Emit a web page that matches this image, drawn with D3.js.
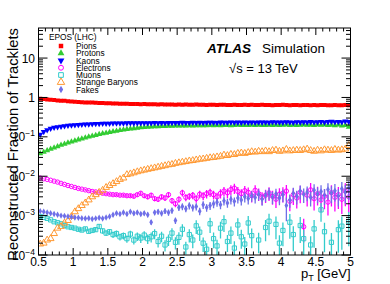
<!DOCTYPE html>
<html>
<head>
<meta charset="utf-8">
<script src="https://cdn.jsdelivr.net/npm/d3@7"></script>
<style>
  body { margin: 0; background: #fff; }
  svg { font-family: "Liberation Sans", Arial, sans-serif; }
</style>
</head>
<body>
<div id="chart"></div>
<script>
// bin centres in pT [GeV]
const ptBins = [
  0.525,0.575,0.625,0.675,0.725,0.775,0.825,0.875,0.925,0.975,
  1.025,1.075,1.125,1.175,1.225,1.275,1.325,1.375,1.425,1.475,
  1.525,1.575,1.625,1.675,1.725,1.775,1.825,1.875,1.925,1.975,
  2.025,2.075,2.125,2.175,2.225,2.275,2.325,2.375,2.425,2.475,
  2.525,2.575,2.625,2.675,2.725,2.775,2.825,2.875,2.925,2.975,
  3.025,3.075,3.125,3.175,3.225,3.275,3.325,3.375,3.425,3.475,
  3.525,3.575,3.625,3.675,3.725,3.775,3.825,3.875,3.925,3.975,
  4.025,4.075,4.125,4.175,4.225,4.275,4.325,4.375,4.425,4.475,
  4.525,4.575,4.625,4.675,4.725,4.775,4.825,4.875,4.925,4.975
];

const pions = [
  0.93,0.91,0.89,0.87,0.86,0.84,0.83,0.82,0.80,0.79,
  0.78,0.77,0.76,0.75,0.74,0.74,0.73,0.72,0.72,0.71,
  0.71,0.70,0.70,0.69,0.69,0.69,0.68,0.68,0.68,0.67,
  0.68,0.67,0.67,0.67,0.66,0.67,0.66,0.66,0.66,0.65,
  0.66,0.65,0.66,0.65,0.65,0.66,0.65,0.65,0.64,0.65,
  0.65,0.64,0.65,0.65,0.64,0.64,0.65,0.64,0.64,0.65,
  0.64,0.65,0.64,0.64,0.65,0.64,0.64,0.63,0.64,0.64,
  0.65,0.64,0.63,0.64,0.64,0.63,0.64,0.64,0.63,0.64,
  0.63,0.64,0.64,0.63,0.63,0.64,0.63,0.63,0.64,0.63
];

const protons = [
  0.038,0.041,0.045,0.049,0.053,0.057,0.062,0.066,0.071,0.075,
  0.080,0.085,0.090,0.095,0.100,0.105,0.110,0.116,0.121,0.126,
  0.131,0.136,0.141,0.146,0.151,0.156,0.160,0.164,0.168,0.172,
  0.175,0.178,0.180,0.182,0.184,0.186,0.187,0.188,0.189,0.190,
  0.191,0.190,0.192,0.193,0.191,0.194,0.193,0.195,0.194,0.196,
  0.195,0.197,0.194,0.196,0.198,0.195,0.197,0.199,0.196,0.198,
  0.197,0.199,0.196,0.200,0.198,0.197,0.201,0.198,0.200,0.197,
  0.199,0.202,0.198,0.200,0.197,0.201,0.203,0.199,0.200,0.196,
  0.202,0.199,0.204,0.198,0.200,0.195,0.203,0.190,0.198,0.178
];

const kaons = [
  0.115,0.135,0.150,0.162,0.172,0.178,0.184,0.189,0.193,0.197,
  0.200,0.203,0.206,0.208,0.210,0.212,0.214,0.216,0.217,0.218,
  0.219,0.220,0.221,0.222,0.222,0.223,0.224,0.223,0.225,0.224,
  0.225,0.226,0.225,0.227,0.226,0.228,0.226,0.227,0.229,0.228,
  0.228,0.230,0.227,0.229,0.231,0.228,0.230,0.229,0.232,0.230,
  0.231,0.229,0.233,0.230,0.232,0.234,0.231,0.233,0.230,0.235,
  0.232,0.234,0.231,0.236,0.233,0.235,0.232,0.237,0.234,0.236,
  0.233,0.238,0.235,0.232,0.237,0.236,0.239,0.234,0.240,0.236,
  0.238,0.242,0.235,0.240,0.245,0.237,0.243,0.239,0.248,0.241
];

const electrons = [
  9.0e-3,8.6e-3,8.3e-3,7.9e-3,7.5e-3,7.1e-3,6.6e-3,6.2e-3,5.8e-3,5.5e-3,
  5.2e-3,4.9e-3,4.7e-3,4.5e-3,4.3e-3,4.1e-3,4.0e-3,3.8e-3,3.7e-3,3.6e-3,
  3.5e-3,3.4e-3,3.4e-3,3.3e-3,3.3e-3,3.2e-3,3.2e-3,3.1e-3,3.4e-3,3.7e-3,
  3.2e-3,3.0e-3,3.3e-3,2.7e-3,2.6e-3,3.0e-3,2.8e-3,3.4e-3,2.4e-3,2.0e-3,
  2.6e-3,3.8e-3,2.9e-3,3.1e-3,3.3e-3,2.7e-3,3.5e-3,3.2e-3,3.6e-3,3.9e-3,
  3.4e-3,3.0e-3,3.7e-3,4.2e-3,3.8e-3,4.6e-3,5.0e-3,4.1e-3,3.6e-3,4.3e-3,
  3.9e-3,3.2e-3,4.4e-3,3.6e-3,2.9e-3,3.3e-3,3.8e-3,3.1e-3,2.6e-3,3.5e-3,
  3.7e-3,4.2e-3,2.3e-3,3.4e-3,2.8e-3,3.9e-3,5.2e-4,3.3e-3,4.5e-3,2.7e-3,
  3.6e-3,2.5e-3,3.1e-3,2.2e-3,3.8e-3,2.9e-3,3.4e-3,2.6e-3,4.2e-3,3.0e-3
];
const electronsErr = [
  .02,.02,.02,.02,.02,.03,.03,.03,.03,.03,
  .04,.04,.04,.05,.05,.05,.06,.06,.06,.07,
  .07,.08,.08,.09,.09,.10,.10,.11,.11,.12,
  .12,.13,.13,.14,.15,.15,.16,.16,.17,.18,
  .18,.19,.20,.20,.21,.22,.22,.23,.24,.24,
  .25,.26,.26,.27,.28,.28,.29,.30,.30,.31,
  .32,.33,.34,.35,.36,.37,.38,.39,.40,.41,
  .42,.43,.44,.45,.46,.47,.60,.48,.49,.50,
  .50,.52,.53,.54,.55,.56,.57,.58,.59,.60
];

const muons = [
  9.5e-4,9.0e-4,8.5e-4,7.8e-4,7.0e-4,6.6e-4,6.2e-4,5.6e-4,5.2e-4,5.0e-4,
  4.8e-4,4.5e-4,4.3e-4,4.6e-4,4.0e-4,4.2e-4,4.4e-4,5.3e-4,4.1e-4,3.6e-4,
  3.9e-4,3.3e-4,3.5e-4,2.9e-4,3.1e-4,2.6e-4,3.4e-4,2.4e-4,3.0e-4,2.7e-4,
  3.2e-4,2.6e-4,2.9e-4,3.5e-4,2.2e-4,3.0e-4,1.8e-4,2.5e-4,3.6e-4,2.1e-4,
  2.8e-4,4.5e-4,1.6e-4,3.3e-4,2.4e-4,5.5e-4,3.8e-4,2.0e-4,1.4e-4,6.2e-4,
  2.6e-4,1.7e-4,4.8e-4,7.0e-4,2.2e-4,3.6e-4,1.5e-4,5.8e-4,2.9e-4,1.9e-4,
  6.5e-4,3.1e-4,0,2.4e-4,0,5.0e-4,7.2e-4,0,6.0e-4,2.0e-4,
  4.2e-4,0,6.8e-4,3.3e-4,0,5.6e-4,2.6e-4,0,1.8e-4,4.6e-4,
  0,1.4e-3,3.9e-4,0,2.1e-4,0,4.4e-4,5.4e-4,0,7.0e-4
];
const muonsErr = [
  .04,.04,.05,.05,.06,.06,.07,.07,.08,.08,
  .09,.10,.10,.11,.12,.12,.13,.14,.15,.16,
  .17,.18,.19,.20,.20,.21,.22,.23,.24,.25,
  .26,.27,.28,.28,.30,.30,.32,.32,.33,.34,
  .35,.35,.36,.37,.38,.38,.40,.40,.41,.42,
  .43,.44,.45,.45,.46,.47,.48,.48,.50,.50,
  .50,.52,.53,.54,.55,.55,.56,.57,.58,.58,
  .60,.60,.62,.62,.63,.64,.65,.65,.66,.67,
  .68,.50,.70,.70,.72,.72,.74,.75,.76,.76
];

const strangeBaryons = [
  1.9e-4,2.0e-4,2.4e-4,2.6e-4,3.5e-4,4.8e-4,5.3e-4,6.5e-4,7.5e-4,9.5e-4,
  1.25e-3,1.5e-3,1.8e-3,2.1e-3,2.5e-3,3.0e-3,3.4e-3,3.9e-3,4.4e-3,5.2e-3,
  5.8e-3,6.5e-3,7.3e-3,8.3e-3,9.0e-3,1.1e-2,1.15e-2,1.22e-2,1.3e-2,1.37e-2,
  1.43e-2,1.5e-2,1.56e-2,1.63e-2,1.7e-2,1.78e-2,1.85e-2,1.95e-2,2.0e-2,2.12e-2,
  2.2e-2,2.28e-2,2.35e-2,2.45e-2,2.5e-2,2.6e-2,2.7e-2,2.75e-2,2.85e-2,2.95e-2,
  3.0e-2,3.1e-2,3.2e-2,3.45e-2,3.35e-2,3.6e-2,3.55e-2,3.8e-2,3.9e-2,3.8e-2,
  4.0e-2,4.2e-2,4.1e-2,4.3e-2,4.2e-2,4.4e-2,4.2e-2,4.5e-2,4.6e-2,4.3e-2,
  4.4e-2,4.8e-2,4.4e-2,4.5e-2,4.6e-2,4.5e-2,4.7e-2,4.9e-2,4.5e-2,4.3e-2,
  4.6e-2,4.4e-2,4.7e-2,4.6e-2,4.5e-2,4.8e-2,4.6e-2,4.7e-2,4.9e-2,6.0e-2
];

const fakes = [
  1.3e-3,1.25e-3,1.2e-3,1.15e-3,1.1e-3,1.05e-3,1.0e-3,9.8e-4,9.5e-4,9.2e-4,
  9.0e-4,8.8e-4,8.6e-4,8.4e-4,8.6e-4,8.2e-4,8.5e-4,8.8e-4,8.4e-4,9.0e-4,
  9.5e-4,1.05e-3,1.15e-3,1.1e-3,1.2e-3,1.1e-3,1.25e-3,1.15e-3,1.2e-3,1.1e-3,
  1.15e-3,1.05e-3,6.8e-4,1.2e-3,1.25e-3,1.15e-3,1.3e-3,1.2e-3,1.35e-3,7.5e-4,
  1.6e-3,1.7e-3,1.5e-3,1.8e-3,1.6e-3,1.7e-3,1.3e-3,1.9e-3,1.6e-3,1.8e-3,
  2.0e-3,2.2e-3,1.9e-3,2.4e-3,2.1e-3,2.6e-3,2.3e-3,2.8e-3,2.5e-3,3.0e-3,
  2.7e-3,3.2e-3,2.9e-3,3.5e-3,2.6e-3,3.3e-3,3.8e-3,3.0e-3,3.6e-3,2.8e-3,
  3.4e-3,1.8e-3,2.5e-3,3.7e-3,3.1e-3,4.2e-3,3.5e-3,3.9e-3,2.9e-3,4.4e-3,
  3.6e-3,4.1e-3,3.3e-3,4.6e-3,3.8e-3,4.3e-3,3.2e-3,4.8e-3,4.0e-3,5.0e-3
];
const fakesErr = [
  .03,.03,.03,.03,.04,.04,.04,.04,.05,.05,
  .05,.06,.06,.06,.07,.07,.07,.08,.08,.08,
  .09,.09,.10,.10,.10,.11,.11,.12,.12,.13,
  .13,.14,.14,.15,.15,.16,.16,.17,.17,.18,
  .18,.19,.19,.20,.20,.21,.21,.22,.22,.23,
  .23,.24,.24,.25,.25,.26,.26,.27,.28,.28,
  .29,.30,.30,.31,.32,.32,.33,.34,.34,.35,
  .36,.60,.37,.38,.38,.39,.40,.41,.41,.42,
  .43,.44,.44,.45,.46,.47,.47,.48,.49,.50
];

const yMajor = [1e-4, 1e-3, 1e-2, 1e-1, 1, 10];
const yMajorLabels = [["10", "\u22124"], ["10", "\u22123"], ["10", "\u22122"], ["10", "\u22121"], ["1", ""], ["10", ""]];
const xMajor = [0.5, 1, 1.5, 2, 2.5, 3, 3.5, 4, 4.5, 5];
const xMajorLabels = ["0.5", "1", "1.5", "2", "2.5", "3", "3.5", "4", "4.5", "5"];

const W = 390, H = 284;
const frame = { left: 38.5, right: 350.5, top: 28, bottom: 255 };

const x = d3.scaleLinear().domain([0.5, 5]).range([frame.left, frame.right]);
const y = d3.scaleLog().domain([1e-4, 58]).range([frame.bottom, frame.top]);

const series = [
  { name: "Pions", values: pions, color: "#ff0000", shape: "square", fill: true, size: 16 },
  { name: "Protons", values: protons, color: "#33cc33", shape: "triUp", fill: true, size: 16 },
  { name: "Kaons", values: kaons, color: "#0000ff", shape: "triDown", fill: true, size: 16 },
  { name: "Electrons", values: electrons, err: electronsErr, color: "#ff00ff", shape: "circle", fill: false, size: 15 },
  { name: "Muons", values: muons, err: muonsErr, color: "#33cccc", shape: "square", fill: false, size: 18 },
  { name: "Strange Baryons", values: strangeBaryons, color: "#ff9933", shape: "triUp", fill: false, size: 20 },
  { name: "Fakes", values: fakes, err: fakesErr, color: "#6f6fe8", shape: "diamond", fill: true, size: 12 },
];

const svg = d3.select("#chart").append("svg").attr("width", W).attr("height", H);

const symbolPath = (s, size) => {
  const types = {
    square: d3.symbolSquare, circle: d3.symbolCircle, triUp: d3.symbolTriangle,
    triDown: d3.symbolTriangle, diamond: d3.symbolDiamond,
  };
  return d3.symbol().type(types[s]).size(size)();
};

svg.append("clipPath").attr("id", "plotclip")
  .append("rect")
  .attr("x", frame.left).attr("y", frame.top)
  .attr("width", frame.right - frame.left).attr("height", frame.bottom - frame.top);

const plot = svg.append("g").attr("clip-path", "url(#plotclip)");

series.forEach((s) => {
  const pts = ptBins.map((pt, i) => ({ pt, v: s.values[i], e: s.err ? s.err[i] : 0 }))
    .filter((d) => d.v > 0);
  const g = plot.append("g");
  if (s.err) {
    g.selectAll("line")
      .data(pts)
      .join("line")
      .attr("x1", (d) => x(d.pt)).attr("x2", (d) => x(d.pt))
      .attr("y1", (d) => y(d.v * (1 + d.e)))
      .attr("y2", (d) => (d.e >= 1 ? frame.bottom + 2 : y(d.v * (1 - d.e))))
      .attr("stroke", s.color).attr("stroke-width", 1.3);
  }
  g.selectAll("path")
    .data(pts)
    .join("path")
    .attr("d", symbolPath(s.shape, s.size))
    .attr("transform", (d) => `translate(${x(d.pt)},${y(d.v)})${s.shape === "triDown" ? " rotate(180)" : ""}`)
    .attr("fill", s.fill ? s.color : "none")
    .attr("stroke", s.fill ? "none" : s.color)
    .attr("stroke-width", 1);
});

// frame and ticks (ROOT style: inside, on all four sides)
const axes = svg.append("g").attr("stroke", "#000").attr("stroke-width", 1);
axes.append("rect")
  .attr("x", frame.left).attr("y", frame.top)
  .attr("width", frame.right - frame.left).attr("height", frame.bottom - frame.top)
  .attr("fill", "none");

const xMinor = d3.range(5, 51).map((d) => d / 10).filter((d) => !xMajor.some((m) => Math.abs(m - d) < 1e-9));
const yMinor = [];
[1e-4, 1e-3, 1e-2, 1e-1, 1, 10].forEach((dec) => {
  for (let k = 2; k <= 9; k++) if (dec * k < 58) yMinor.push(dec * k);
});

const tick = (list, len, horiz) => {
  list.forEach((v) => {
    if (horiz) {
      const px = x(v);
      axes.append("line").attr("x1", px).attr("x2", px).attr("y1", frame.bottom).attr("y2", frame.bottom - len);
      axes.append("line").attr("x1", px).attr("x2", px).attr("y1", frame.top).attr("y2", frame.top + len);
    } else {
      const py = y(v);
      axes.append("line").attr("x1", frame.left).attr("x2", frame.left + len).attr("y1", py).attr("y2", py);
      axes.append("line").attr("x1", frame.right).attr("x2", frame.right - len).attr("y1", py).attr("y2", py);
    }
  });
};
tick(xMajor, 7, true);
tick(xMinor, 3.5, true);
tick(yMajor, 9, false);
tick(yMinor, 4.5, false);

// tick labels
const lab = svg.append("g").attr("font-size", 12).attr("fill", "#000");
lab.selectAll("text.xl")
  .data(xMajor)
  .join("text")
  .attr("class", "xl")
  .attr("x", (d) => x(d)).attr("y", 265.5)
  .attr("text-anchor", "middle")
  .text((d, i) => xMajorLabels[i]);

yMajor.forEach((v, i) => {
  const [base, sup] = yMajorLabels[i];
  const t = lab.append("text")
    .attr("x", 35).attr("y", y(v) + 4.5)
    .attr("text-anchor", "end");
  t.append("tspan").text(base);
  if (sup) t.append("tspan").attr("font-size", 8.5).attr("dy", -5).text(sup);
});

// axis titles
svg.append("text")
  .attr("transform", `translate(17.5,${frame.top}) rotate(-90)`)
  .attr("text-anchor", "end")
  .attr("font-size", 14.8)
  .text("Reconstructed Fraction of Tracklets");

const xt = svg.append("text")
  .attr("x", 350.5).attr("y", 278)
  .attr("text-anchor", "end")
  .attr("font-size", 13);
xt.append("tspan").text("p");
xt.append("tspan").attr("font-size", 9).attr("dy", 3).text("T");
xt.append("tspan").attr("dy", -3).text(" [GeV]");

// ATLAS label
svg.append("text").attr("x", 207).attr("y", 52.5).attr("font-size", 13.5)
  .attr("font-weight", "bold").attr("font-style", "italic").text("ATLAS");
svg.append("text").attr("x", 262).attr("y", 52.5).attr("font-size", 13.5).text("Simulation");
svg.append("text").attr("x", 229).attr("y", 73).attr("font-size", 13).text("\u221As = 13 TeV");

// legend
const leg = svg.append("g").attr("font-size", 8.3);
leg.append("text").attr("x", 49).attr("y", 39.5).text("EPOS (LHC)");
series.forEach((s, i) => {
  const cy = 46 + i * 7.25;
  leg.append("path")
    .attr("d", symbolPath(s.shape, s.size + 4))
    .attr("transform", `translate(61,${cy})${s.shape === "triDown" ? " rotate(180)" : ""}`)
    .attr("fill", s.fill ? s.color : "none")
    .attr("stroke", s.fill ? "none" : s.color);
  leg.append("text").attr("x", 76).attr("y", cy + 3).text(s.name);
});
</script>
</body>
</html>
